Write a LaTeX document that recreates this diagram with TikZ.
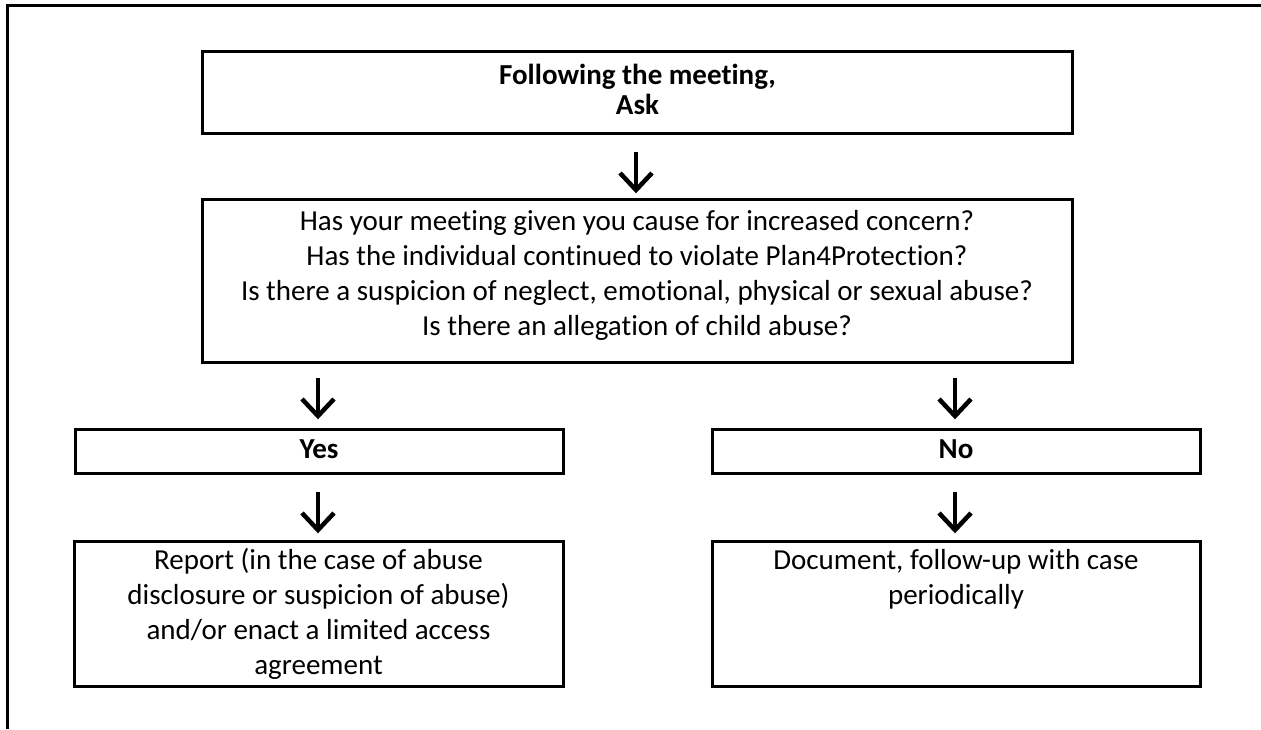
\documentclass[tikz,border=0pt]{standalone}
\usepackage{fontspec}
\setmainfont{Carlito}[Ligatures={NoCommon}]
\begin{document}
\begin{tikzpicture}[x=1pt,y=-1pt,
  box/.style={draw, line width=3pt, inner sep=0pt},
  txt/.style={font=\fontsize{29}{35}\selectfont, align=center, inner sep=0pt, anchor=north},
  shaft/.style={line width=4.5pt, line cap=butt},
  vhead/.style={line width=4.5pt, line cap=butt, line join=miter}]
\useasboundingbox (0,0) rectangle (1261,729);
% frame
\coordinate (ftl) at (7,5.5);
\coordinate (ftr) at (1261,5.5);
\coordinate (fbl) at (7,729);
\draw[line width=3pt] (ftr) -- (ftl) -- (fbl);
% boxes
\node[box, minimum width=870pt, minimum height=82pt] (top) at (637.5,92) {};
\node[txt, anchor=center, font=\fontsize{29}{28}\selectfont\bfseries] (toptxt) at (637.5,93.5) {\strut Following the meeting,\\ Ask\strut};
\node[box, minimum width=870pt, minimum height=163pt] (q) at (637,280.5) {};
\node[txt] (qtxt) at (637,205.5) {\strut Has your meeting given you cause for increased concern?\\
Has the individual continued to violate Plan4Protection?\\
Is there a suspicion of neglect, emotional, physical or sexual abuse?\\
Is there an allegation of child abuse?};
\node[box, minimum width=488pt, minimum height=44pt] (yes) at (319,451) {};
\node[txt, font=\fontsize{29}{35}\selectfont\bfseries] (yestxt) at (319,433.5) {\strut Yes};
\node[box, minimum width=488pt, minimum height=44pt] (no) at (956,451) {};
\node[txt, font=\fontsize{29}{35}\selectfont\bfseries] (notxt) at (956,433.5) {\strut No};
\node[box, minimum width=489pt, minimum height=145pt] (rep) at (318.5,613.5) {};
\node[txt] (reptxt) at (318.5,544.5) {\strut Report (in the case of abuse\\ disclosure or suspicion of abuse)\\ and/or enact a limited access\\ agreement};
\node[box, minimum width=488pt, minimum height=145pt] (doc) at (956,613.5) {};
\node[txt] (doctxt) at (956,544.5) {\strut Document, follow-up with case\\ periodically};
% arrows
\foreach \n/\x/\y in {a1/636/152, a2/318/378, a3/955/378, a4/318/492, a5/955/492}{
  \coordinate (\n s) at (\x,\y);
  \coordinate (\n e) at (\x,\y+38);
  \draw[shaft] (\n s) -- (\n e);
  \draw[vhead] ([shift={(-16,-17)}]\n e) -- (\n e) -- ([shift={(16,-17)}]\n e);
}
\end{tikzpicture}
\end{document}
